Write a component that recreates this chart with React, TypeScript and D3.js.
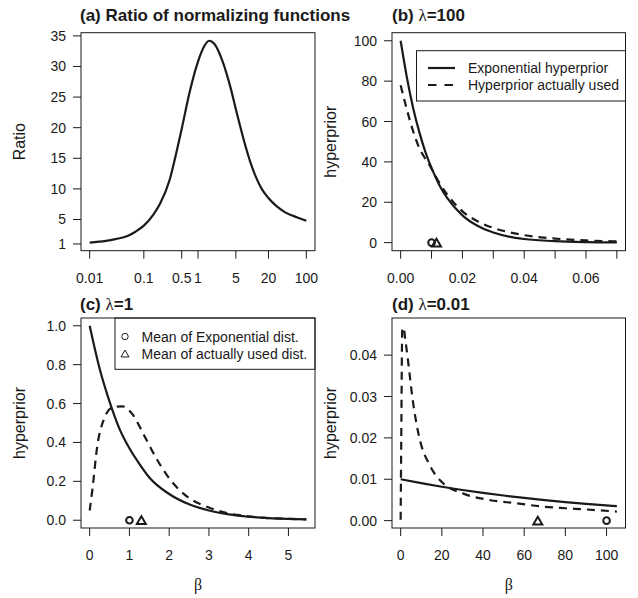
import React from "react";
import * as d3 from "d3";

// ---------- data ----------
// (a) ratio of normalizing functions
const ratioBeta = [0.01, 0.02, 0.03, 0.05, 0.07, 0.1, 0.15, 0.2, 0.3, 0.4, 0.5, 0.7, 1, 1.3, 1.6, 2, 2.8, 4, 5.2, 7, 10, 15, 20, 40, 70, 100];
const ratioValue = [1.22, 1.5, 1.8, 2.3, 3.0, 4.0, 5.8, 7.6, 11.5, 16, 19.8, 25.8, 30.8, 33.3, 34.2, 33.7, 31, 26.5, 22.4, 18, 13.5, 10, 8.5, 6.2, 5.3, 4.8];
const ratioXTicks = [0.01, 0.1, 0.5, 1, 5, 20, 100];
const ratioXLabels = ["0.01", "0.1", "0.5", "1", "5", "20", "100"];
const ratioYTicks = [1, 5, 10, 15, 20, 25, 30, 35];

// (b) lambda = 100
const bExpBeta = [0, 0.002, 0.004, 0.006, 0.008, 0.01, 0.0125, 0.015, 0.02, 0.025, 0.03, 0.035, 0.04, 0.05, 0.06, 0.07];
const bExpValue = [100, 82, 67, 55, 45, 37, 28.6, 22.3, 13.5, 8.2, 5, 3, 1.8, 0.7, 0.25, 0.1];
const bUsedBeta = [0, 0.002, 0.0044, 0.006, 0.008, 0.0093, 0.012, 0.015, 0.02, 0.025, 0.03, 0.035, 0.04, 0.05, 0.06, 0.07];
const bUsedValue = [78, 66, 53.5, 47, 41.5, 38.5, 31, 24, 15.5, 10.5, 7.3, 5.2, 3.7, 2.0, 1.1, 0.6];
const bXTicks = [0, 0.01, 0.02, 0.03, 0.04, 0.05, 0.06, 0.07];
const bXLabels = ["0.00", "", "0.02", "", "0.04", "", "0.06", ""];
const bYTicks = [0, 20, 40, 60, 80, 100];
const bMeans = [0.01, 0.0116]; // exponential, actually used

// (c) lambda = 1
const cExpBeta = [0, 0.25, 0.5, 0.75, 1, 1.25, 1.5, 2, 2.5, 3, 3.5, 4, 4.5, 5, 5.45];
const cExpValue = [1, 0.78, 0.61, 0.47, 0.37, 0.29, 0.22, 0.135, 0.082, 0.05, 0.03, 0.018, 0.011, 0.007, 0.0045];
const cUsedBeta = [0, 0.07, 0.19, 0.36, 0.57, 0.82, 1.07, 1.37, 1.7, 2.04, 2.46, 3.0, 3.5, 4.0, 4.5, 5.0, 5.45];
const cUsedValue = [0.05, 0.16, 0.38, 0.52, 0.58, 0.586, 0.547, 0.436, 0.31, 0.205, 0.12, 0.065, 0.035, 0.02, 0.011, 0.007, 0.0045];
const cXTicks = [0, 1, 2, 3, 4, 5];
const cXLabels = ["0", "1", "2", "3", "4", "5"];
const cYTicks = [0, 0.2, 0.4, 0.6, 0.8, 1.0];
const cYLabels = ["0.0", "0.2", "0.4", "0.6", "0.8", "1.0"];
const cMeans = [1, 1.3];

// (d) lambda = 0.01
const dExpBeta = [0, 10, 20, 30, 40, 50, 60, 70, 80, 90, 105];
const dExpValue = [0.01, 0.00905, 0.00819, 0.00741, 0.0067, 0.00607, 0.00549, 0.00497, 0.00449, 0.00407, 0.0035];
const dUsedBeta = [0, 0.3, 0.8, 1.5, 2.2, 3.4, 5.9, 9.1, 14, 20.5, 30, 43, 56, 69, 80, 90, 105];
const dUsedValue = [0.0002, 0.02, 0.0466, 0.0465, 0.044, 0.0394, 0.029, 0.02, 0.0135, 0.0091, 0.0066, 0.005, 0.0042, 0.0034, 0.003, 0.0027, 0.0022];
const dXTicks = [0, 20, 40, 60, 80, 100];
const dXLabels = ["0", "20", "40", "60", "80", "100"];
const dYTicks = [0, 0.01, 0.02, 0.03, 0.04];
const dYLabels = ["0.00", "0.01", "0.02", "0.03", "0.04"];
const dMeans = [100, 66.6];

const legendBLabels = ["Exponential hyperprior", "Hyperprior actually used"];
const legendCLabels = ["Mean of Exponential dist.", "Mean of actually used dist."];

// ---------- style ----------
const SANS = "'Liberation Sans', Arial, Helvetica, sans-serif";
const SERIF = "'Liberation Serif', 'DejaVu Serif', serif";
const INK = "#1a1a1a";
const DASH = "8,6";

type Box = { x0: number; x1: number; y0: number; y1: number };
const boxA: Box = { x0: 81, x1: 315, y0: 32.7, y1: 250.7 };
const boxB: Box = { x0: 392, x1: 625.5, y0: 32.7, y1: 250.7 };
const boxC: Box = { x0: 81, x1: 315, y0: 318, y1: 528 };
const boxD: Box = { x0: 392, x1: 625.5, y0: 318, y1: 528 };

function padLin(lo: number, hi: number): [number, number] {
  const r = hi - lo;
  return [lo - 0.04 * r, hi + 0.04 * r];
}

function zip(xs: number[], ys: number[]): [number, number][] {
  return xs.map((x, i) => [x, ys[i]]);
}

function Triangle({ cx, cy, s, sw }: { cx: number; cy: number; s: number; sw: number }) {
  const h = s * 0.866;
  const pts = `${cx - s / 2},${cy + h / 2} ${cx + s / 2},${cy + h / 2} ${cx},${cy - h / 2}`;
  return <polygon points={pts} fill="none" stroke={INK} strokeWidth={sw} strokeLinejoin="miter" />;
}

type PanelProps = {
  box: Box;
  x: any;
  y: any;
  xTicks: number[];
  xLabels: string[];
  yTicks: number[];
  yLabels: string[];
  yTitle: string;
  xTitle?: string;
  children?: React.ReactNode;
};

function Panel({ box, x, y, xTicks, xLabels, yTicks, yLabels, yTitle, xTitle, children }: PanelProps) {
  const midY = (box.y0 + box.y1) / 2;
  const midX = (box.x0 + box.x1) / 2;
  return (
    <g>
      {children}
      <rect x={box.x0} y={box.y0} width={box.x1 - box.x0} height={box.y1 - box.y0} fill="none" stroke={INK} strokeWidth={1} />
      {xTicks.map((t, i) => (
        <g key={"xt" + i}>
          <line x1={x(t)} x2={x(t)} y1={box.y1} y2={box.y1 + 8} stroke={INK} strokeWidth={1} />
          {xLabels[i] ? (
            <text x={x(t)} y={box.y1 + 32} textAnchor="middle" fontFamily={SANS} fontSize={14} fill={INK}>
              {xLabels[i]}
            </text>
          ) : null}
        </g>
      ))}
      {yTicks.map((t, i) => (
        <g key={"yt" + i}>
          <line x1={box.x0 - 8} x2={box.x0} y1={y(t)} y2={y(t)} stroke={INK} strokeWidth={1} />
          <text x={box.x0 - 15} y={y(t) + 5} textAnchor="end" fontFamily={SANS} fontSize={14} fill={INK}>
            {yLabels[i]}
          </text>
        </g>
      ))}
      <text
        transform={`translate(${box.x0 - 56},${midY}) rotate(-90)`}
        textAnchor="middle"
        fontFamily={SANS}
        fontSize={16}
        fill={INK}
      >
        {yTitle}
      </text>
      {xTitle ? (
        <text x={midX} y={590} textAnchor="middle" fontFamily={SERIF} fontSize={16} fill={INK}>
          {xTitle}
        </text>
      ) : null}
    </g>
  );
}

export default function App() {
  // (a)
  const xa = d3.scaleLog().domain([0.01 / Math.pow(10, 0.16), 100 * Math.pow(10, 0.16)]).range([boxA.x0, boxA.x1]);
  const ya = d3.scaleLinear().domain(padLin(d3.min(ratioValue)!, d3.max(ratioValue)!)).range([boxA.y1, boxA.y0]);
  const lineA = d3.line<[number, number]>().x((d) => xa(d[0])).y((d) => ya(d[1])).curve(d3.curveMonotoneX);

  // (b)
  const xb = d3.scaleLinear().domain(padLin(0, 0.07)).range([boxB.x0, boxB.x1]);
  const yb = d3.scaleLinear().domain(padLin(0, 100)).range([boxB.y1, boxB.y0]);
  const lineB = d3.line<[number, number]>().x((d) => xb(d[0])).y((d) => yb(d[1])).curve(d3.curveMonotoneX);

  // (c)
  const xc = d3.scaleLinear().domain(padLin(0, 5.45)).range([boxC.x0, boxC.x1]);
  const yc = d3.scaleLinear().domain(padLin(0, 1)).range([boxC.y1, boxC.y0]);
  const lineC = d3.line<[number, number]>().x((d) => xc(d[0])).y((d) => yc(d[1])).curve(d3.curveMonotoneX);

  // (d)
  const xd = d3.scaleLinear().domain(padLin(0, 105)).range([boxD.x0, boxD.x1]);
  const yd = d3.scaleLinear().domain(padLin(0.0001, 0.0471)).range([boxD.y1, boxD.y0]);
  const lineD = d3.line<[number, number]>().x((d) => xd(d[0])).y((d) => yd(d[1])).curve(d3.curveMonotoneX);

  const titleStyle = { fontFamily: SANS, fontSize: 17, fontWeight: 700 as const, fill: INK };

  return (
    <svg width={638} height={598} style={{ position: "absolute", left: 0, top: 0, background: "#fff" }}>
      <rect x={0} y={0} width={638} height={598} fill="#fff" />

      {/* titles */}
      <text x={80} y={21} {...titleStyle}>(a) Ratio of normalizing functions</text>
      <text x={392} y={21} {...titleStyle}>
        (b) <tspan fontFamily={SERIF} fontWeight={400}>λ</tspan>=100
      </text>
      <text x={80} y={310} {...titleStyle}>
        (c) <tspan fontFamily={SERIF} fontWeight={400}>λ</tspan>=1
      </text>
      <text x={392} y={310} {...titleStyle}>
        (d) <tspan fontFamily={SERIF} fontWeight={400}>λ</tspan>=0.01
      </text>

      {/* (a) */}
      <Panel box={boxA} x={xa} y={ya} xTicks={ratioXTicks} xLabels={ratioXLabels} yTicks={ratioYTicks} yLabels={ratioYTicks.map(String)} yTitle="Ratio">
        <path d={lineA(zip(ratioBeta, ratioValue))!} fill="none" stroke={INK} strokeWidth={2.2} />
      </Panel>

      {/* (b) */}
      <Panel box={boxB} x={xb} y={yb} xTicks={bXTicks} xLabels={bXLabels} yTicks={bYTicks} yLabels={bYTicks.map(String)} yTitle="hyperprior">
        <path d={lineB(zip(bExpBeta, bExpValue))!} fill="none" stroke={INK} strokeWidth={2.2} />
        <path d={lineB(zip(bUsedBeta, bUsedValue))!} fill="none" stroke={INK} strokeWidth={2.2} strokeDasharray={DASH} />
        <circle cx={xb(bMeans[0])} cy={yb(0)} r={3.3} fill="none" stroke={INK} strokeWidth={2} />
        <Triangle cx={xb(bMeans[1])} cy={yb(0)} s={9} sw={2} />
        <rect x={416.5} y={50.7} width={boxB.x1 - 416.5} height={50.3} fill="#fff" stroke={INK} strokeWidth={1} />
        <line x1={428} x2={455} y1={68} y2={68} stroke={INK} strokeWidth={2.2} />
        <line x1={428} x2={455} y1={85} y2={85} stroke={INK} strokeWidth={2.2} strokeDasharray="8.5,8" />
        <text x={468} y={73} fontFamily={SANS} fontSize={14} fill={INK}>{legendBLabels[0]}</text>
        <text x={468} y={90} fontFamily={SANS} fontSize={14} fill={INK}>{legendBLabels[1]}</text>
      </Panel>

      {/* (c) */}
      <Panel box={boxC} x={xc} y={yc} xTicks={cXTicks} xLabels={cXLabels} yTicks={cYTicks} yLabels={cYLabels} yTitle="hyperprior" xTitle="β">
        <path d={lineC(zip(cExpBeta, cExpValue))!} fill="none" stroke={INK} strokeWidth={2.2} />
        <path d={lineC(zip(cUsedBeta, cUsedValue))!} fill="none" stroke={INK} strokeWidth={2.2} strokeDasharray={DASH} />
        <circle cx={xc(cMeans[0])} cy={yc(0)} r={3.3} fill="none" stroke={INK} strokeWidth={2} />
        <Triangle cx={xc(cMeans[1])} cy={yc(0)} s={9} sw={2} />
        <rect x={115} y={boxC.y0} width={boxC.x1 - 115} height={51.3} fill="#fff" stroke={INK} strokeWidth={1} />
        <circle cx={125} cy={336.5} r={3.2} fill="none" stroke={INK} strokeWidth={1} />
        <Triangle cx={125} cy={353.5} s={8} sw={1} />
        <text x={141.5} y={341.5} fontFamily={SANS} fontSize={14} fill={INK}>{legendCLabels[0]}</text>
        <text x={141.5} y={358.5} fontFamily={SANS} fontSize={14} fill={INK}>{legendCLabels[1]}</text>
      </Panel>

      {/* (d) */}
      <Panel box={boxD} x={xd} y={yd} xTicks={dXTicks} xLabels={dXLabels} yTicks={dYTicks} yLabels={dYLabels} yTitle="hyperprior" xTitle="β">
        <path d={lineD(zip(dExpBeta, dExpValue))!} fill="none" stroke={INK} strokeWidth={2.2} />
        <path d={lineD(zip(dUsedBeta, dUsedValue))!} fill="none" stroke={INK} strokeWidth={2.2} strokeDasharray={DASH} />
        <circle cx={xd(dMeans[0])} cy={yd(0)} r={3.3} fill="none" stroke={INK} strokeWidth={2} />
        <Triangle cx={xd(dMeans[1])} cy={yd(0)} s={9} sw={2} />
      </Panel>
    </svg>
  );
}
